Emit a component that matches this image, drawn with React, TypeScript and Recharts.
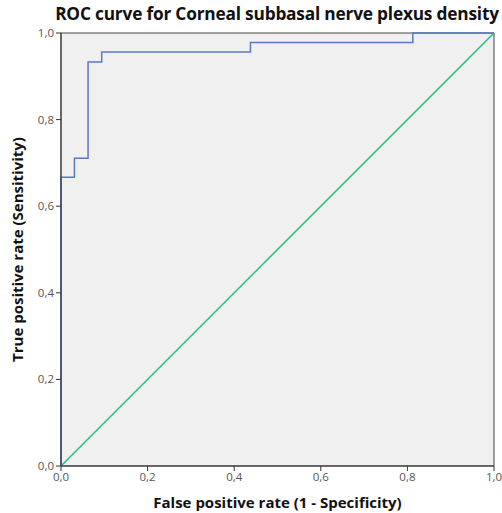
import { ComposedChart, Line, XAxis, YAxis, ReferenceArea } from "recharts";

// ROC step points: false positive rate / true positive rate
const fpr = [0, 0, 0.031, 0.031, 0.0625, 0.0625, 0.094, 0.094, 0.4375, 0.4375, 0.8125, 0.8125, 1];
const tpr = [0, 0.667, 0.667, 0.711, 0.711, 0.933, 0.933, 0.956, 0.956, 0.978, 0.978, 1, 1];
const refX = [0, 1];
const refY = [0, 1];
const ticks = [0, 0.2, 0.4, 0.6, 0.8, 1];

const rocData = fpr.map((x, i) => ({ x, roc: tpr[i] }));
const refData = refX.map((x, i) => ({ x, ref: refY[i] }));

const fmt = (v: number) => v.toFixed(1).replace(".", ",");
const font = "'Open Sans', 'DejaVu Sans', sans-serif";

export default function App() {
  return (
    <div style={{ position: "absolute", left: 0, top: 0, width: 502, height: 513, background: "#fff", fontFamily: font }}>
      <div style={{ position: "absolute", left: 40, width: 474, top: 2, textAlign: "center", whiteSpace: "nowrap", fontWeight: 700, fontSize: 17.3, letterSpacing: -0.2, color: "#111" }}>
        ROC curve for Corneal subbasal nerve plexus density
      </div>
      <ComposedChart width={502} height={513} margin={{ top: 33, right: 8, left: 0, bottom: 0 }}>
        <ReferenceArea x1={0} x2={1} y1={0} y2={1} fill="#f0f0f0" fillOpacity={1} stroke="#444" strokeWidth={1} />
        <XAxis
          type="number"
          dataKey="x"
          domain={[0, 1]}
          ticks={ticks}
          tickFormatter={fmt}
          height={47}
          allowDuplicatedCategory={false}
          stroke="#333"
          tickSize={5}
          tick={{ fontSize: 11.5, fill: "#555", fontFamily: font }}
          label={{ value: "False positive rate (1 - Specificity)", position: "insideBottom", offset: 5, fontSize: 15, fontWeight: 700, fill: "#111", fontFamily: font }}
        />
        <YAxis
          type="number"
          domain={[0, 1]}
          ticks={ticks}
          tickFormatter={fmt}
          width={61}
          stroke="#333"
          tickSize={5}
          tick={{ fontSize: 11.5, fill: "#555", fontFamily: font }}
          label={{ value: "True positive rate (Sensitivity)", angle: -90, position: "insideLeft", offset: 18, style: { textAnchor: "middle" }, fontSize: 15, fontWeight: 700, fill: "#111", fontFamily: font }}
        />
        <Line data={refData} dataKey="ref" type="linear" stroke="#22c07a" strokeWidth={1.5} dot={false} isAnimationActive={false} />
        <Line data={rocData} dataKey="roc" type="linear" stroke="#5b78c8" strokeWidth={1.5} dot={false} isAnimationActive={false} />
      </ComposedChart>
    </div>
  );
}
